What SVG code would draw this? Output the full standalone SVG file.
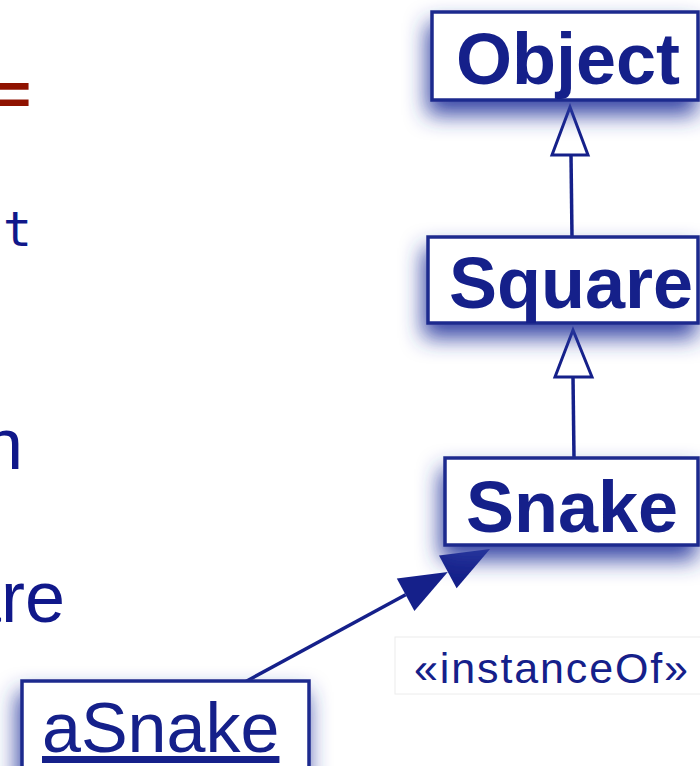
<svg xmlns="http://www.w3.org/2000/svg" width="700" height="766" viewBox="0 0 700 766">
<defs>
<filter id="shadow" x="-40%" y="-60%" width="180%" height="240%">
<feGaussianBlur in="SourceAlpha" stdDeviation="11"/>
<feOffset dx="-3" dy="13" result="b"/>
<feFlood flood-color="#2a3aa0" flood-opacity="0.95"/>
<feComposite in2="b" operator="in"/>
<feMerge><feMergeNode/><feMergeNode in="SourceGraphic"/></feMerge>
</filter>
</defs>
<style>
.box{fill:#ffffff;stroke:#1f2a8e;stroke-width:3.5}
.cls{font-family:"Liberation Sans",Arial,sans-serif;font-weight:bold;font-size:72px;fill:#15208a}
.obj{font-family:"Liberation Sans",Arial,sans-serif;font-size:70px;fill:#15208a;text-decoration:underline}
.edge{stroke:#15208a;stroke-width:3.5;fill:none}
.gen{fill:#ffffff;stroke:#15208a;stroke-width:3;stroke-linejoin:miter}
.dep{fill:#15208a;stroke:none}
.side{font-family:"Liberation Sans",Arial,sans-serif;font-size:72px;fill:#10188a}
</style>
<rect width="700" height="766" fill="#ffffff"/>
<!-- cropped slide text on the left -->
<text x="30" y="115" text-anchor="end" style="font-family:'Liberation Sans',Arial,sans-serif;font-weight:bold;font-style:italic;font-size:62px;fill:#8f1200">=</text>
<text x="32" y="246" text-anchor="end" style="font-family:'DejaVu Sans Mono',monospace;font-size:48px;fill:#10188a">t</text>
<text x="23" y="469" text-anchor="end" class="side">n</text>
<text x="65" y="622" text-anchor="end" class="side">are</text>

<g id="connectors">
<line class="edge" x1="571" y1="155" x2="572" y2="237"/>
<polygon class="gen" points="570,107 552,155 588,155"/>
<line class="edge" x1="573" y1="377" x2="574" y2="458"/>
<polygon class="gen" points="573,330 555,377 592,377"/>
<line class="edge" x1="245" y1="682" x2="405.6" y2="594.8"/>
<polygon class="dep" points="447.8,571.9 414.4,611.1 396.8,578.5"/>
<polygon class="dep" points="490,549 456.6,588.2 439,555.6"/>
</g>

<g id="Object">
<rect class="box" x="432" y="12" width="266" height="88" filter="url(#shadow)"/>
<text class="cls" x="456" y="84">Object</text>
</g>
<g id="Square">
<rect class="box" x="428" y="237" width="270" height="86" filter="url(#shadow)"/>
<text class="cls" x="449" y="308">Square</text>
</g>
<g id="Snake">
<rect class="box" x="445" y="458" width="253" height="87" filter="url(#shadow)"/>
<text class="cls" x="466" y="532">Snake</text>
</g>
<g id="aSnake">
<rect class="box" x="22" y="681" width="287" height="110" filter="url(#shadow)"/>
<text class="obj" x="42" y="752">aSnake</text>
</g>
<g id="instanceOf-label">
<rect x="395" y="637" width="310" height="57" fill="#ffffff" stroke="#ececec" stroke-width="1"/>
<text x="414" y="683" textLength="274" lengthAdjust="spacing" style="font-family:'Liberation Sans',Arial,sans-serif;font-size:43px;fill:#15208a">«instanceOf»</text>
</g>
</svg>
